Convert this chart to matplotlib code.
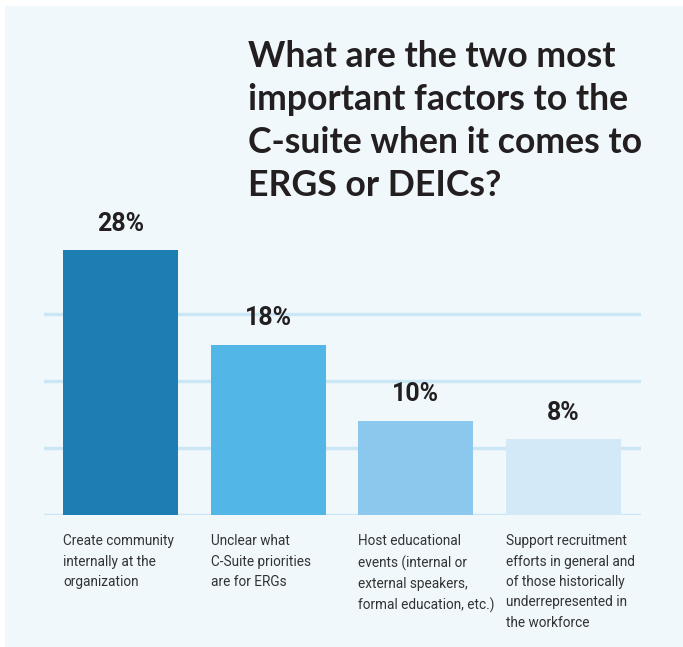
import matplotlib.pyplot as plt
from matplotlib.patches import Rectangle

categories = [
    'Create community\ninternally at the\norganization',
    'Unclear what\nC-Suite priorities\nare for ERGs',
    'Host educational\nevents (internal or\nexternal speakers,\nformal education, etc.)',
    'Support recruitment\nefforts in general and\nof those historically\nunderrepresented in\nthe workforce',
]
values = [28, 18, 10, 8]
value_labels = ['28%', '18%', '10%', '8%']
bar_colors = ['#1E7EB3', '#52B6E7', '#8CC8EE', '#D4E9F7']
grid_levels = [0, 7.1, 14.2, 21.3]

title = 'What are the two most\nimportant factors to the\nC-suite when it comes to\nERGS or DEICs?'

bg = '#F0F8FC'

fig = plt.figure(figsize=(6.83, 6.47), dpi=100, facecolor='white')
fig.patches.append(Rectangle((5 / 683, 0), 1, 1 - 6 / 647, transform=fig.transFigure,
                             facecolor=bg, edgecolor='none', zorder=-10))

ax = fig.add_axes([44 / 683, 132 / 647, 597 / 683, 283.5 / 647])
ax.set_facecolor('none')

x = list(range(len(values)))
bars = ax.bar(x, values, width=0.78, color=bar_colors, zorder=3)

for lvl in grid_levels:
    ax.axhline(lvl, color='#CBE7F6', linewidth=2.5, zorder=1)

for rect, lab in zip(bars, value_labels):
    ax.annotate(lab, (rect.get_x() + rect.get_width() / 2, rect.get_height()),
                xytext=(0, 14), textcoords='offset points', ha='center', va='baseline',
                fontsize=18, fontweight='bold', color='#231F20', family='Roboto')

for rect, cat in zip(bars, categories):
    ax.annotate(cat, (rect.get_x(), 0), xytext=(0, -14), textcoords='offset points',
                ha='left', va='top', fontsize=9.8, color='#333333', family='Roboto',
                linespacing=1.57, annotation_clip=False)

ax.set_xlim(-0.518, 3.525)
ax.set_ylim(0, 30)
ax.axis('off')

fig.text(248 / 683, 1 - 40 / 647, title, ha='left', va='top', fontsize=25.7,
         fontweight='bold', color='#231F20', family='Lato', linespacing=1.37)

plt.savefig('out.png', dpi=100, facecolor='white')
plt.close()
